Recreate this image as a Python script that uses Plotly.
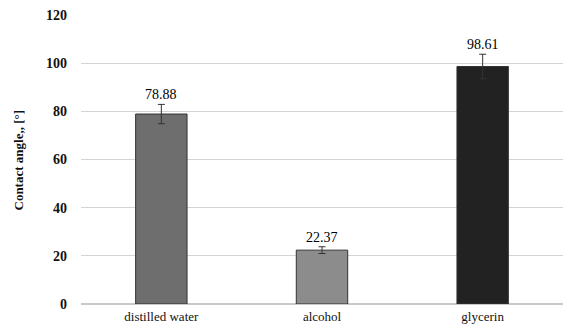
import plotly.graph_objects as go

# Contact angle measurements per liquid
liquids = ["distilled water", "alcohol", "glycerin"]
angles = [78.88, 22.37, 98.61]
errors = [4.0, 1.4, 5.1]
bar_colors = ["#6e6e6e", "#8c8c8c", "#222222"]
y_ticks = [0, 20, 40, 60, 80, 100, 120]

W, H = 564, 325
M_L, M_R, M_T, M_B = 81, 1, 15, 21
SERIF = "Liberation Serif, Times New Roman, serif"

fig = go.Figure()
fig.add_trace(go.Bar(
    x=liquids,
    y=angles,
    width=0.32,
    marker=dict(color=bar_colors, line=dict(color="#333333", width=1)),
    error_y=dict(type="data", array=errors, visible=True,
                 color="#333333", thickness=1, width=3.5),
    hoverinfo="x+y",
))

# Value labels placed just above each error bar
for name, val, err in zip(liquids, angles, errors):
    fig.add_annotation(
        x=name, y=val + err, xref="x", yref="y",
        text=f"{val:.2f}", showarrow=False,
        yanchor="bottom", yshift=0,
        font=dict(family=SERIF, size=14, color="#000000"),
    )

# Rotated y-axis title
fig.add_annotation(
    x=(18 - M_L) / (W - M_L - M_R), y=0.5, xref="paper", yref="paper",
    text="Contact angle,, [°]", textangle=-90, showarrow=False,
    xanchor="center", yanchor="middle",
    font=dict(family=SERIF, size=13, color="#111111", weight="bold"),
)

fig.update_layout(
    width=W, height=H,
    margin=dict(l=M_L, r=M_R, t=M_T, b=M_B, pad=0),
    paper_bgcolor="white", plot_bgcolor="white",
    showlegend=False,
    font=dict(family=SERIF, size=13, color="#111111"),
    xaxis=dict(
        showgrid=False, showline=False, ticks="", ticklabelstandoff=3,
        tickfont=dict(family=SERIF, size=13, color="#111111"),
    ),
    yaxis=dict(
        range=[0, 120], tickvals=y_ticks,
        showgrid=True, gridcolor="#d4d4d4", gridwidth=1,
        zeroline=True, zerolinecolor="#c8c8c8", zerolinewidth=1.5,
        showline=False, ticks="", ticklabelstandoff=13,
        tickfont=dict(family=SERIF, size=14, color="#111111", weight="bold"),
    ),
)

fig.write_html("out.html")
